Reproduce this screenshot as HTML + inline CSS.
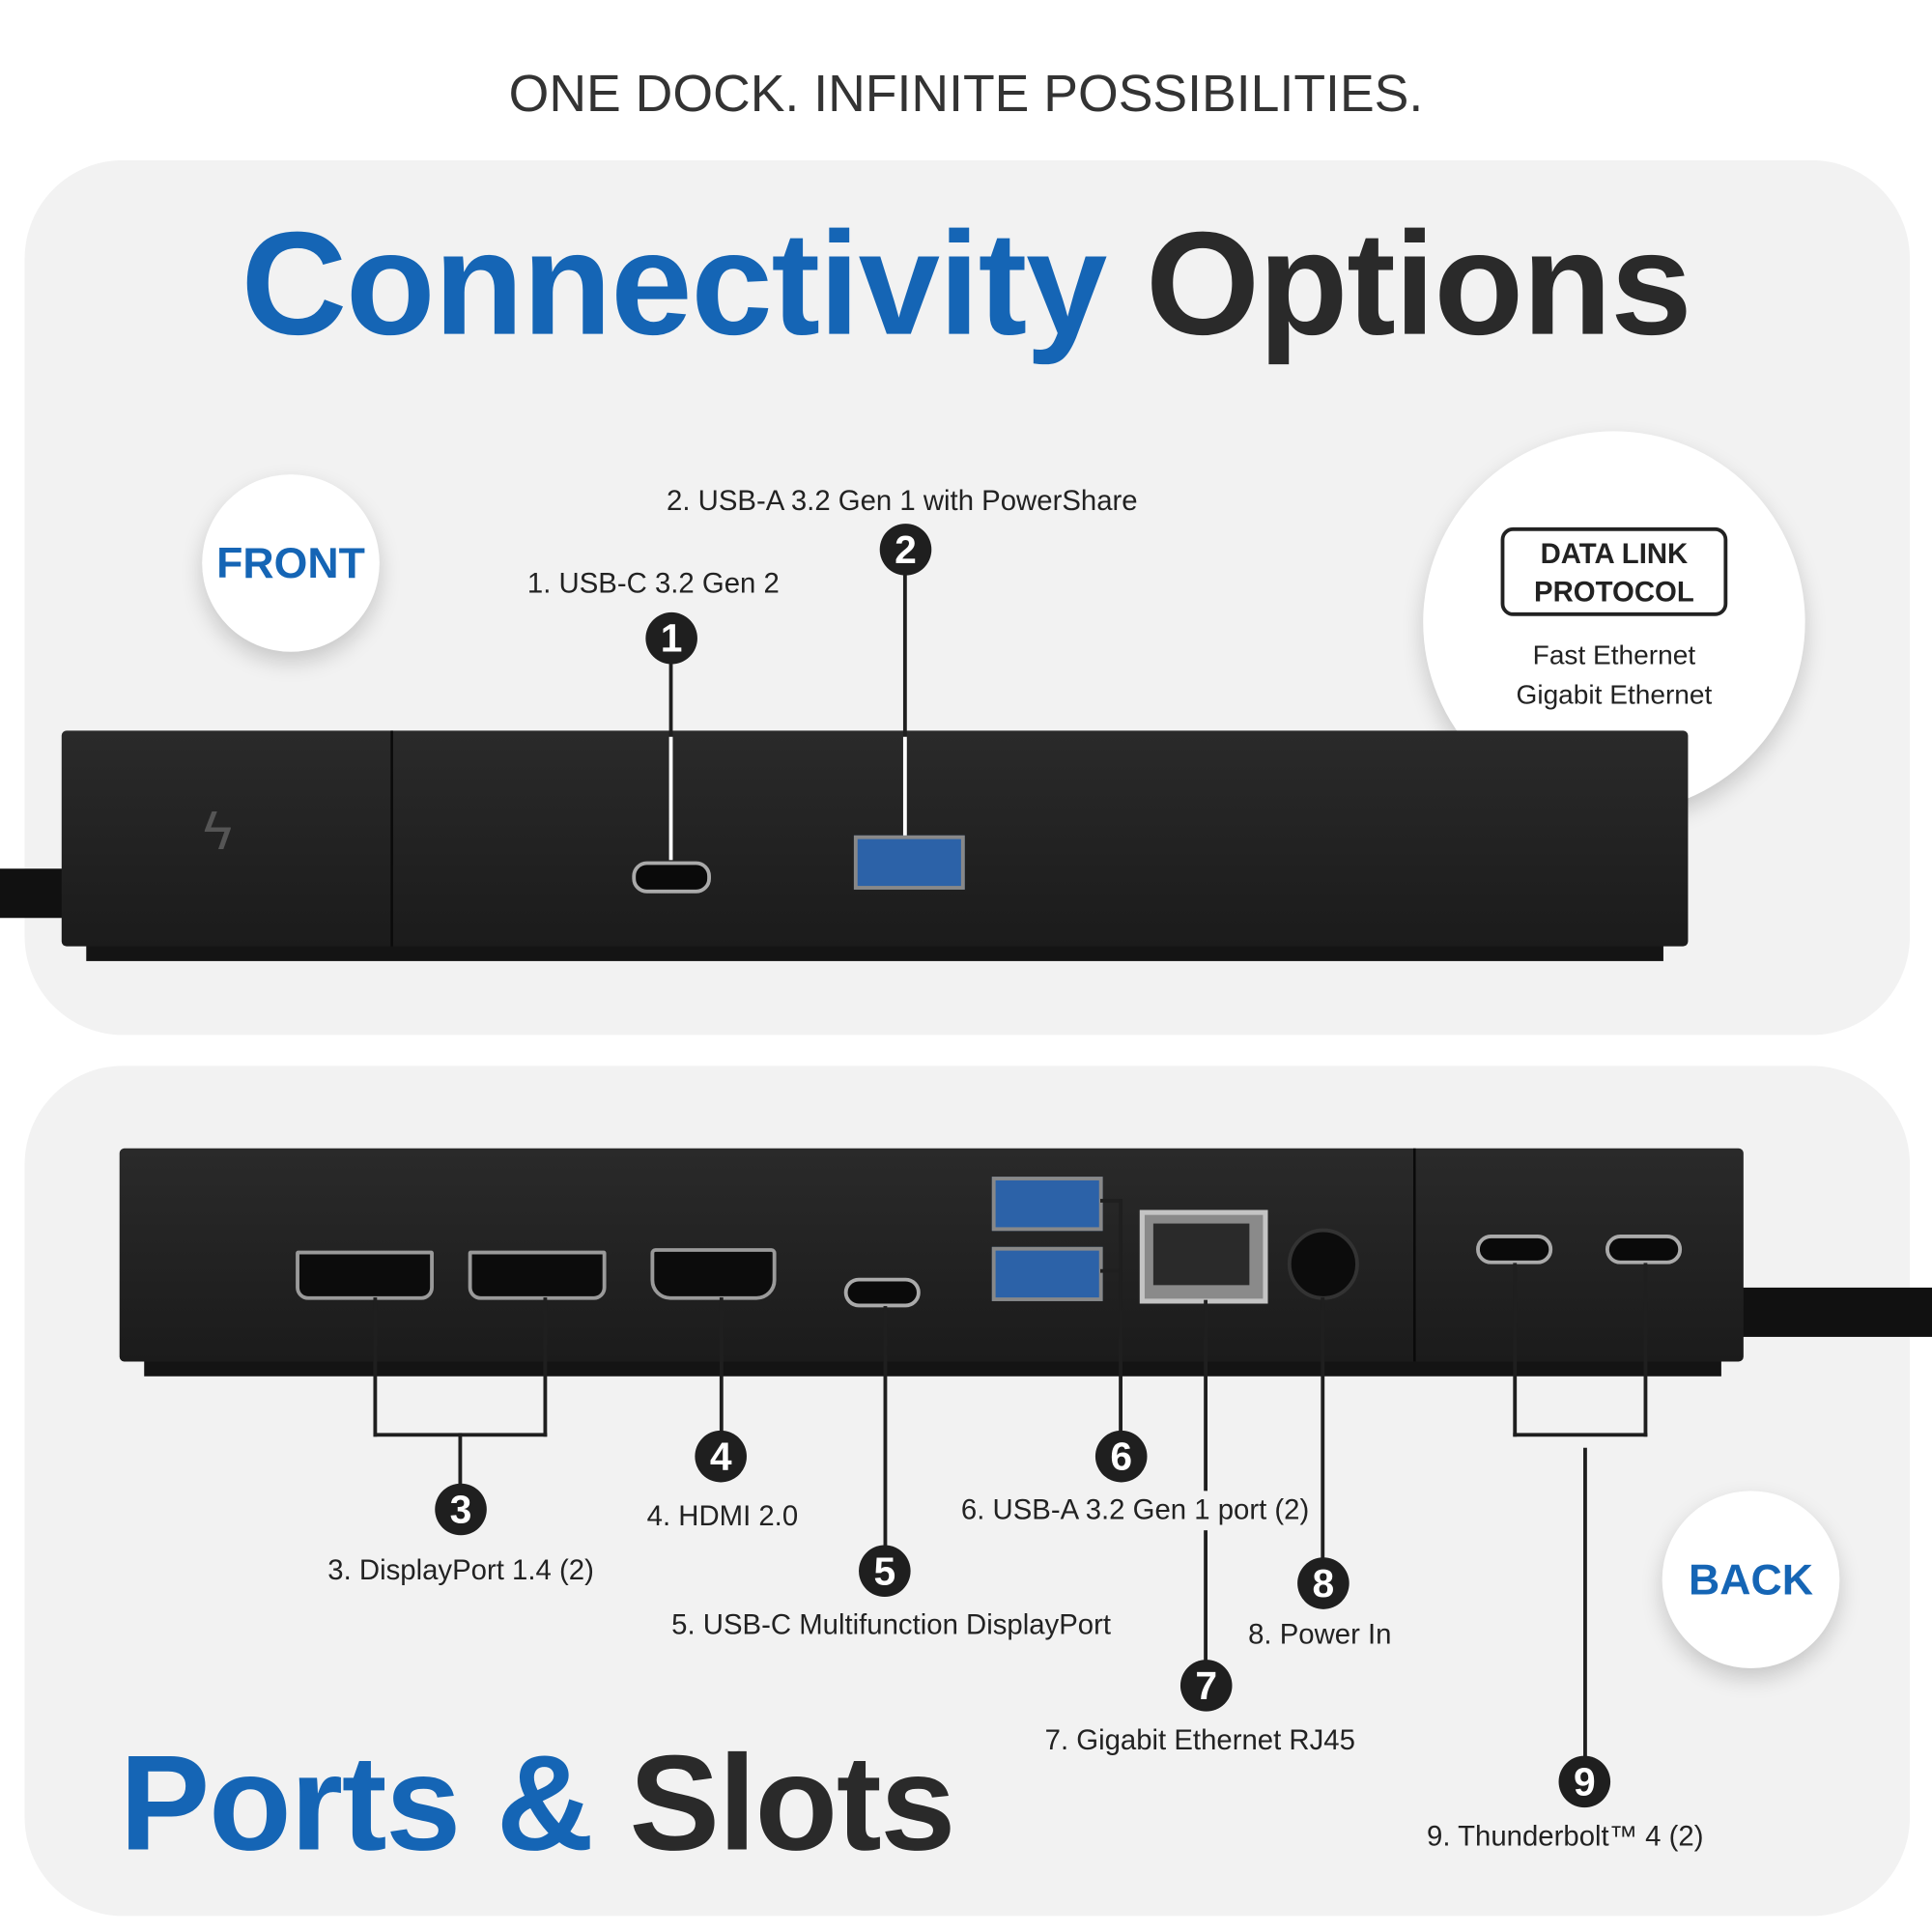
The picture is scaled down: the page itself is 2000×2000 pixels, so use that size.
<!DOCTYPE html>
<html><head><meta charset="utf-8">
<style>
html,body{margin:0;padding:0;background:#fff;}
body{width:2000px;height:2000px;overflow:hidden;position:relative;font-family:"Liberation Sans",sans-serif;}
#s{position:absolute;left:0;top:0;width:1568px;height:1568px;transform:scale(1.27551);transform-origin:0 0;}
.a{position:absolute;}
.panel{position:absolute;background:#f2f2f2;border-radius:80px;}
.t{position:absolute;white-space:nowrap;color:#222;font-size:23px;}
.c{position:absolute;width:42px;height:42px;border-radius:50%;background:#1f1f1f;color:#fff;font-size:32px;font-weight:bold;text-align:center;line-height:42px;}
.l{position:absolute;background:#1f1f1f;}
.w{position:absolute;background:#fff;}
.circ{position:absolute;border-radius:50%;background:#fff;box-shadow:0 8px 18px rgba(0,0,0,0.18);}
.dp{position:absolute;background:#0c0c0c;border:3px solid #9a9a9a;}
</style></head><body>
<div id="s">
<div class="t" style="left:0;width:1568px;text-align:center;top:52px;font-size:42px;color:#333;">ONE DOCK. INFINITE POSSIBILITIES.</div>

<div class="panel" style="left:20px;top:130px;width:1530px;height:710px;"></div>
<div class="panel" style="left:20px;top:865px;width:1530px;height:690px;"></div>

<div class="t" style="left:0;width:1568px;text-align:center;top:162px;font-size:119px;font-weight:bold;letter-spacing:-1px;"><span style="color:#1565b5">Connectivity</span> <span style="color:#2a2a2a">Options</span></div>

<!-- FRONT circle -->
<div class="circ" style="left:164px;top:385px;width:144px;height:144px;"></div>
<div class="t" style="left:164px;width:144px;text-align:center;top:438px;font-size:35px;font-weight:bold;color:#1565b5;">FRONT</div>

<!-- Data link circle -->
<div class="circ" style="left:1155px;top:350px;width:310px;height:310px;"></div>
<div class="a" style="left:1218px;top:428px;width:178px;height:66px;border:3px solid #222;border-radius:10px;"></div>
<div class="t" style="left:1218px;width:184px;text-align:center;top:434px;font-size:23px;font-weight:bold;line-height:31px;">DATA LINK<br>PROTOCOL</div>
<div class="t" style="left:1160px;width:300px;text-align:center;top:516px;font-size:22px;line-height:32px;">Fast Ethernet<br>Gigabit Ethernet</div>

<!-- front dock -->
<div class="a" style="left:0;top:705px;width:55px;height:40px;background:#111;"></div>
<div class="a" style="left:70px;top:760px;width:1280px;height:20px;background:#141414;"></div>
<div class="a" style="left:50px;top:593px;width:1320px;height:175px;background:linear-gradient(#2a2a2a,#1b1b1b);border-radius:4px;"></div>
<div class="a" style="left:317px;top:593px;width:2px;height:175px;background:#0a0a0a;"></div>
<div class="t" style="left:165px;top:650px;font-size:44px;color:#555;">ϟ</div>
<div class="a" style="left:513px;top:699px;width:58px;height:20px;border:3px solid #aaa;border-radius:12px;background:#0a0a0a;"></div>
<div class="a" style="left:693px;top:678px;width:84px;height:38px;border:3px solid #888;background:#2c62a8;"></div>

<div class="l" style="left:543px;top:518px;width:3px;height:80px;"></div>
<div class="w" style="left:543px;top:598px;width:3px;height:100px;"></div>
<div class="c" style="left:524px;top:497px;">1</div>
<div class="l" style="left:733px;top:446px;width:3px;height:152px;"></div>
<div class="w" style="left:733px;top:598px;width:3px;height:80px;"></div>
<div class="c" style="left:714px;top:425px;">2</div>
<div class="t" style="left:428px;top:460px;">1. USB-C 3.2 Gen 2</div>
<div class="t" style="left:541px;top:393px;">2. USB-A 3.2 Gen 1 with PowerShare</div>

<!-- back dock -->
<div class="a" style="left:1410px;top:1045px;width:158px;height:40px;background:#111;"></div>
<div class="a" style="left:117px;top:1100px;width:1280px;height:17px;background:#141414;"></div>
<div class="a" style="left:97px;top:932px;width:1318px;height:173px;background:linear-gradient(#2a2a2a,#1b1b1b);border-radius:4px;"></div>
<div class="a" style="left:1147px;top:932px;width:2px;height:173px;background:#0a0a0a;"></div>
<div class="dp" style="left:240px;top:1015px;width:106px;height:34px;border-radius:2px 2px 10px 10px;"></div>
<div class="dp" style="left:380px;top:1015px;width:106px;height:34px;border-radius:2px 2px 10px 10px;"></div>
<div class="dp" style="left:528px;top:1013px;width:96px;height:36px;border-radius:4px 4px 16px 16px;"></div>
<div class="a" style="left:685px;top:1037px;width:56px;height:18px;border:3px solid #aaa;border-radius:12px;background:#0a0a0a;"></div>
<div class="a" style="left:805px;top:955px;width:84px;height:38px;border:3px solid #888;background:#2c62a8;"></div>
<div class="a" style="left:805px;top:1012px;width:84px;height:38px;border:3px solid #888;background:#2c62a8;"></div>
<div class="a" style="left:925px;top:982px;width:96px;height:68px;border:4px solid #c4c4c4;background:#8a8a8a;"></div>
<div class="a" style="left:936px;top:993px;width:78px;height:50px;background:#2a2a2a;"></div>
<div class="a" style="left:1045px;top:997px;width:52px;height:52px;border-radius:50%;background:#0c0c0c;border:3px solid #333;"></div>
<div class="a" style="left:1198px;top:1002px;width:56px;height:18px;border:3px solid #aaa;border-radius:12px;background:#0a0a0a;"></div>
<div class="a" style="left:1303px;top:1002px;width:56px;height:18px;border:3px solid #aaa;border-radius:12px;background:#0a0a0a;"></div>

<!-- back lines -->
<div class="l" style="left:303px;top:1053px;width:3px;height:113px;"></div>
<div class="l" style="left:441px;top:1053px;width:3px;height:113px;"></div>
<div class="l" style="left:303px;top:1163px;width:141px;height:3px;"></div>
<div class="l" style="left:372px;top:1163px;width:3px;height:45px;"></div>
<div class="c" style="left:353px;top:1204px;">3</div>
<div class="l" style="left:584px;top:1053px;width:3px;height:110px;"></div>
<div class="c" style="left:564px;top:1161px;">4</div>
<div class="l" style="left:717px;top:1060px;width:3px;height:200px;"></div>
<div class="c" style="left:697px;top:1254px;">5</div>
<div class="l" style="left:893px;top:973px;width:18px;height:3px;"></div>
<div class="l" style="left:893px;top:1030px;width:18px;height:3px;"></div>
<div class="l" style="left:908px;top:973px;width:3px;height:190px;"></div>
<div class="c" style="left:889px;top:1161px;">6</div>
<div class="l" style="left:977px;top:1055px;width:3px;height:155px;"></div>
<div class="l" style="left:977px;top:1242px;width:3px;height:110px;"></div>
<div class="c" style="left:958px;top:1347px;">7</div>
<div class="l" style="left:1072px;top:1053px;width:3px;height:215px;"></div>
<div class="c" style="left:1053px;top:1264px;">8</div>
<div class="l" style="left:1228px;top:1025px;width:3px;height:141px;"></div>
<div class="l" style="left:1334px;top:1025px;width:3px;height:141px;"></div>
<div class="l" style="left:1228px;top:1163px;width:109px;height:3px;"></div>
<div class="l" style="left:1285px;top:1175px;width:3px;height:255px;"></div>
<div class="c" style="left:1265px;top:1425px;">9</div>

<div class="t" style="left:266px;top:1261px;">3. DisplayPort 1.4 (2)</div>
<div class="t" style="left:525px;top:1217px;">4. HDMI 2.0</div>
<div class="t" style="left:545px;top:1305px;">5. USB-C Multifunction DisplayPort</div>
<div class="t" style="left:780px;top:1212px;">6. USB-A 3.2 Gen 1 port (2)</div>
<div class="t" style="left:848px;top:1399px;">7. Gigabit Ethernet RJ45</div>
<div class="t" style="left:1013px;top:1313px;">8. Power In</div>
<div class="t" style="left:1158px;top:1477px;">9. Thunderbolt™ 4 (2)</div>

<!-- BACK circle -->
<div class="circ" style="left:1349px;top:1210px;width:144px;height:144px;"></div>
<div class="t" style="left:1349px;width:144px;text-align:center;top:1263px;font-size:35px;font-weight:bold;color:#1565b5;">BACK</div>

<div class="t" style="left:97px;top:1400px;font-size:110px;font-weight:bold;letter-spacing:-1px;"><span style="color:#1565b5">Ports &amp;</span> <span style="color:#2a2a2a">Slots</span></div>
</div>
</body></html>
